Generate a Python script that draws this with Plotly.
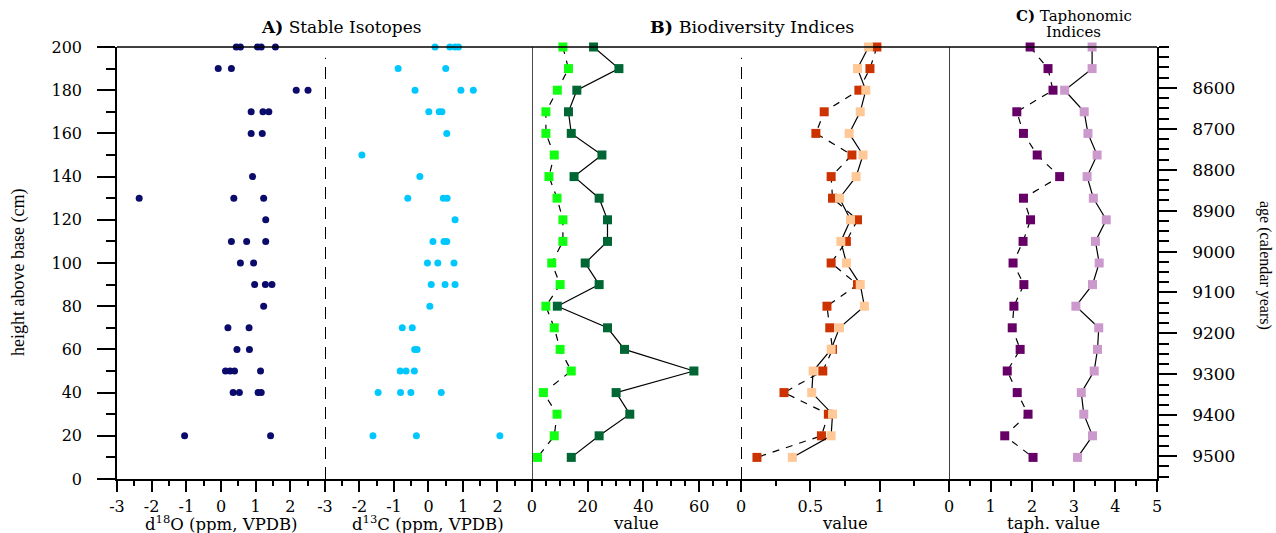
import plotly.graph_objects as go

# ---------------- data ----------------
# A) stable isotopes (several samples per level)
d18o_height = [200, 200, 200, 200, 200, 190, 190, 180, 180, 170, 170, 170, 160, 160,
               140, 130, 130, 130, 120, 110, 110, 110, 100, 100, 90, 90, 90, 80,
               70, 70, 60, 60, 50, 50, 50, 50, 40, 40, 40, 40, 20, 20]
d18o_value = [0.44, 0.56, 1.05, 1.16, 1.57, -0.08, 0.30, 2.17, 2.51, 0.87, 1.21, 1.38, 0.87, 1.19,
              0.91, -2.36, 0.37, 1.23, 1.29, 0.30, 0.74, 1.29, 0.56, 0.94, 0.97, 1.28, 1.47, 1.23,
              0.20, 0.81, 0.46, 0.82, 0.13, 0.26, 0.39, 1.14, 0.35, 0.53, 1.07, 1.16, -1.05, 1.43]

d13c_height = [200, 200, 200, 200, 190, 190, 180, 180, 180, 170, 170, 170, 160, 150,
               140, 130, 130, 130, 120, 110, 110, 110, 100, 100, 100, 90, 90, 90, 80,
               70, 70, 60, 60, 50, 50, 50, 40, 40, 40, 40, 20, 20, 20]
d13c_value = [0.19, 0.62, 0.77, 0.87, -0.88, 0.50, -0.39, 0.94, 1.30, 0.01, 0.31, 0.39, 0.53, -1.93,
              -0.25, -0.60, 0.43, 0.54, 0.77, 0.13, 0.45, 0.53, -0.03, 0.27, 0.74, 0.08, 0.48, 0.77, 0.04,
              -0.76, -0.47, -0.40, -0.33, -0.82, -0.65, -0.41, -1.46, -0.81, -0.51, 0.37, -1.61, -0.35, 2.07]

# B) and C) indices, one value per level
heights = [200, 190, 180, 170, 160, 150, 140, 130, 120, 110,
           100, 90, 80, 70, 60, 50, 40, 30, 20, 10]

bio_dark_green = [22.1, 31.2, 16.1, 13.1, 14.1, 25.1, 15.1, 24.1, 27.1, 27.1,
                  19.1, 24.1, 9.1, 27.1, 33.2, 58.1, 30.2, 35.1, 24.1, 14.1]
bio_light_green = [11.1, 13.1, 9.1, 5.0, 5.0, 8.0, 6.1, 9.0, 11.1, 11.1,
                   7.1, 10.1, 5.0, 8.0, 10.1, 14.1, 4.1, 9.0, 8.0, 2.0]
bio_dark_red = [0.98, 0.93, 0.85, 0.60, 0.54, 0.80, 0.65, 0.66, 0.84, 0.76,
                0.65, 0.84, 0.62, 0.64, 0.66, 0.59, 0.31, 0.63, 0.58, 0.115]
bio_light_orange = [0.92, 0.84, 0.90, 0.86, 0.78, 0.88, 0.83, 0.71, 0.79, 0.72,
                    0.76, 0.86, 0.89, 0.71, 0.65, 0.52, 0.51, 0.66, 0.65, 0.37]
taph_dark_purple = [1.95, 2.38, 2.50, 1.63, 1.79, 2.12, 2.66, 1.79, 1.96, 1.78,
                    1.54, 1.80, 1.56, 1.52, 1.71, 1.40, 1.64, 1.90, 1.34, 2.02]
taph_light_purple = [3.44, 3.44, 2.78, 3.25, 3.34, 3.56, 3.32, 3.47, 3.78, 3.52,
                     3.61, 3.45, 3.05, 3.60, 3.57, 3.49, 3.18, 3.24, 3.45, 3.09]

height_ticks = [0, 20, 40, 60, 80, 100, 120, 140, 160, 180, 200]
age_ticks = [8600, 8700, 8800, 8900, 9000, 9100, 9200, 9300, 9400, 9500]
iso_ticks = [-3, -2, -1, 0, 1, 2]
bioA_ticks = [0, 20, 40, 60]
bioB_ticks = [0, 0.5, 1]
taph_ticks = [0, 1, 2, 3, 4, 5]

x_titles = ["d<sup>18</sup>O (ppm, VPDB)", "d<sup>13</sup>C (ppm, VPDB)",
            "value", "value", "taph. value"]

# ---------------- style ----------------
SERIF = "DejaVu Serif"
TIMES = "Liberation Serif"
DASH = "7px,7px"
W, H = 1276, 533
ML, MR, MT, MB = 117, 119, 47, 54
PH = H - MT - MB  # plot height in px


def py(px_y):
    """screen y (px from top) -> paper y"""
    return (H - MB - px_y) / PH


fig = go.Figure()


def pts(x, y, xa, color, symbol="circle", size=7):
    fig.add_trace(go.Scatter(x=x, y=y, xaxis=xa, yaxis="y", mode="markers",
                             marker=dict(color=color, symbol=symbol, size=size, line=dict(width=0)),
                             cliponaxis=False, showlegend=False, hoverinfo="skip"))


def series(x, y, xa, color, dash):
    fig.add_trace(go.Scatter(x=x, y=y, xaxis=xa, yaxis="y", mode="lines+markers",
                             line=dict(color="black", width=1.2, dash=dash),
                             marker=dict(color=color, symbol="square", size=9, line=dict(width=0)),
                             cliponaxis=False, showlegend=False, hoverinfo="skip"))


pts(d18o_value, d18o_height, "x", "#0b0b6b")
pts(d13c_value, d13c_height, "x2", "#00c8ff")
series(bio_dark_green, heights, "x3", "#006633", "solid")
series(bio_light_green, heights, "x3", "#11ff11", DASH)
series(bio_dark_red, heights, "x4", "#cc3300", DASH)
series(bio_light_orange, heights, "x4", "#ffc896", "solid")
series(taph_dark_purple, heights, "x5", "#660066", DASH)
series(taph_light_purple, heights, "x5", "#cc99cc", "solid")
# empty trace so that the age axis (y2) is drawn
fig.add_trace(go.Scatter(x=[None], y=[None], xaxis="x5", yaxis="y2", mode="markers",
                         showlegend=False, hoverinfo="skip"))

tickfont = dict(family=SERIF, size=16, color="black")
titlefont = dict(family=SERIF, size=16.5, color="black")


def xax(domain, rng, tv, minor_dt):
    return dict(domain=domain, range=rng, anchor="y", showgrid=False, zeroline=False,
                showline=True, linecolor="black", linewidth=1.5,
                ticks="outside", ticklen=11, tickwidth=1.5, tickcolor="black",
                tickmode="array", tickvals=tv, ticktext=[str(v) for v in tv], tickfont=tickfont,
                ticklabelstandoff=1, automargin=False,
                minor=dict(dtick=minor_dt, tick0=0, ticks="outside", ticklen=5,
                           tickwidth=1.5, tickcolor="black", showgrid=False),
                fixedrange=True)


domains = [[0, 0.2], [0.2, 0.399], [0.399, 0.6], [0.6, 0.8], [0.8, 1.0]]

fig.update_layout(
    width=W, height=H,
    margin=dict(l=ML, r=MR, t=MT, b=MB, autoexpand=False),
    paper_bgcolor="white", plot_bgcolor="white",
    showlegend=False,
    xaxis=xax(domains[0], [-3, 3], iso_ticks, 0.5),
    xaxis2=xax(domains[1], [-3, 3], iso_ticks, 0.5),
    xaxis3=xax(domains[2], [0, 75], bioA_ticks, 5),
    xaxis4=xax(domains[3], [0, 1.5], bioB_ticks, 0.25),
    xaxis5=xax(domains[4], [0, 5], taph_ticks, 0.5),
    yaxis=dict(domain=[0, 1], range=[0, 200], anchor="x", side="left",
               showgrid=False, zeroline=False, showline=True, linecolor="black", linewidth=1.5,
               ticks="outside", ticklen=18, tickwidth=1.5, tickcolor="black",
               tickmode="array", tickvals=height_ticks, tickfont=tickfont,
               ticklabelstandoff=12, automargin=False,
               minor=dict(dtick=10, tick0=0, ticks="outside", ticklen=9, tickwidth=1.5,
                          tickcolor="black", showgrid=False),
               fixedrange=True),
    yaxis2=dict(overlaying="y", anchor="x5", side="right", range=[9556, 8500],
                showgrid=False, zeroline=False, showline=True, linecolor="black", linewidth=1.5,
                ticks="outside", ticklen=18, tickwidth=1.5, tickcolor="black",
                tickmode="array", tickvals=age_ticks,
                tickfont=dict(family=SERIF, size=17, color="black"),
                ticklabelstandoff=12, automargin=False,
                minor=dict(dtick=25, tick0=0, ticks="outside", ticklen=10, tickwidth=1.5,
                           tickcolor="black", showgrid=False),
                fixedrange=True),
)

# frame and panel separators
fig.add_shape(type="line", xref="paper", yref="paper", x0=0, x1=1, y0=1, y1=1,
              line=dict(color="black", width=1.5))
fig.add_shape(type="line", xref="x3", yref="paper", x0=0, x1=0, y0=0, y1=1,
              line=dict(color="black", width=1.5))
fig.add_shape(type="line", xref="x5", yref="paper", x0=0, x1=0, y0=0, y1=1,
              line=dict(color="black", width=1.5))
fig.add_shape(type="line", xref="x2", yref="paper", x0=-3, x1=-3, y0=0, y1=0.975,
              line=dict(color="black", width=2, dash="12px,8px"))
fig.add_shape(type="line", xref="x4", yref="paper", x0=0, x1=0, y0=0, y1=0.975,
              line=dict(color="black", width=2, dash="12px,8px"))

# x-axis titles, centred under each sub-panel
for dom, txt in zip(domains, x_titles):
    fig.add_annotation(text=txt, xref="paper", yref="paper",
                       x=(dom[0] + dom[1]) / 2, y=py(523), showarrow=False,
                       xanchor="center", yanchor="middle", font=titlefont)

# panel titles and y-axis titles
fig.add_annotation(text="<b>A)</b> Stable Isotopes", xref="paper", yref="paper",
                   x=0.2154, y=py(27), showarrow=False, xanchor="center", yanchor="middle",
                   font=dict(family=SERIF, size=17, color="black"))
fig.add_annotation(text="<b>B)</b> Biodiversity Indices", xref="paper", yref="paper",
                   x=0.6106, y=py(27), showarrow=False, xanchor="center", yanchor="middle",
                   font=dict(family=SERIF, size=17.5, color="black"))
fig.add_annotation(text="<b>C)</b> Taphonomic", xref="paper", yref="paper",
                   x=0.920, y=py(16.5), showarrow=False, xanchor="center", yanchor="middle",
                   font=dict(family=SERIF, size=15, color="black"))
fig.add_annotation(text="Indices", xref="paper", yref="paper",
                   x=0.920, y=py(32.5), showarrow=False, xanchor="center", yanchor="middle",
                   font=dict(family=SERIF, size=15, color="black"))
fig.add_annotation(text="height above base (cm)", xref="paper", yref="paper",
                   x=(18 - ML) / (W - ML - MR), y=py(273), showarrow=False, textangle=-90,
                   xanchor="center", yanchor="middle",
                   font=dict(family=TIMES, size=18, color="black"))
fig.add_annotation(text="age (calendar years)", xref="paper", yref="paper",
                   x=(1265 - ML) / (W - ML - MR), y=py(265), showarrow=False, textangle=90,
                   xanchor="center", yanchor="middle",
                   font=dict(family=TIMES, size=16, color="black"))

# remove the default 8px page margin so the figure fills the window exactly
fig.write_html("out.html",
               config={"displayModeBar": False},
               post_script="document.body.style.margin='0';document.body.style.overflow='hidden';")
